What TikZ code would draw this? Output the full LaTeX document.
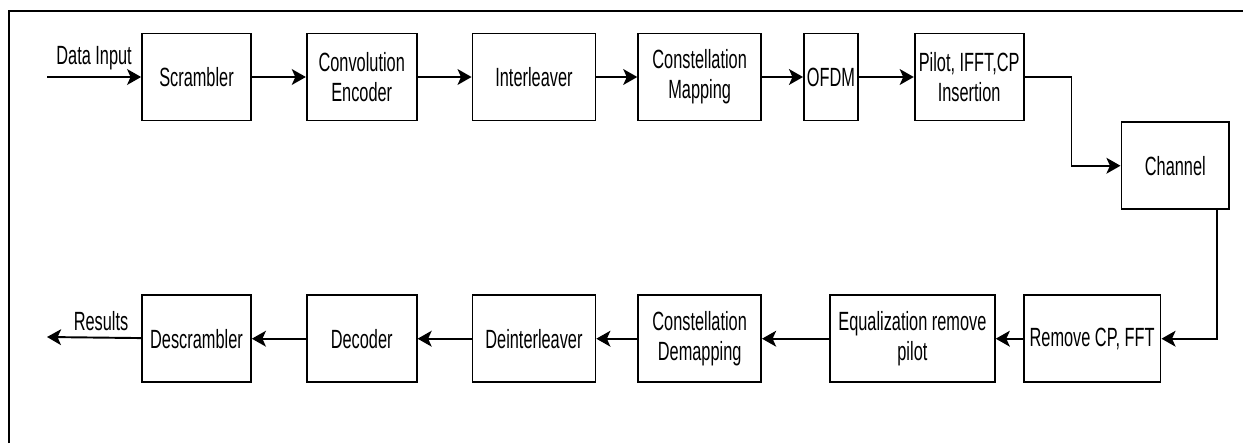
\documentclass[tikz,border=0pt]{standalone}
\usepackage{fontspec}
\usepackage{tikz}
\usetikzlibrary{arrows.meta, positioning}
\newfontfamily\blockfont{Liberation Sans}[FakeStretch=0.62]
\tikzstyle{block} = [rectangle, minimum height=1.74cm, inner sep=1pt, text centered, align=center, draw=black, line width=1pt, font=\blockfont\fontsize{15pt}{17pt}\selectfont]
\tikzstyle{arrow} = [line width=1.1pt, -{Stealth[length=8pt,width=9pt,inset=2pt]}]
\tikzstyle{tag} = [font=\blockfont\fontsize{15pt}{17pt}\selectfont]

\begin{document}
\begin{tikzpicture}[x=0.02cm, y=-0.02cm]
	\useasboundingbox (0,0) rectangle (1243,443);
	\draw[line width=1.1pt] (9,443) -- (9,11) -- (1243,11);
	% transmitter
	\node (scr) [block, minimum width=2.18cm] at (196.5,77) {Scrambler};
	\node (conv) [block, minimum width=2.2cm, right=1.08cm of scr] {Convolution\\Encoder};
	\node (intl) [block, minimum width=2.46cm, right=1.08cm of conv] {Interleaver};
	\node (cmap) [block, minimum width=2.46cm, right=0.82cm of intl] {Constellation\\Mapping};
	\node (ofdm) [block, minimum width=1.08cm, right=0.82cm of cmap] {OFDM};
	\node (pil) [block, minimum width=2.18cm, right=1.1cm of ofdm] {Pilot, IFFT,CP\\Insertion};
	\node (chan) [block, minimum width=2.16cm, below right=0cm and 1.92cm of pil] {Channel};
	% receiver
	\node (desc) [block, minimum width=2.18cm, below=3.46cm of scr] {Descrambler};
	\node (dec) [block, minimum width=2.2cm, right=1.08cm of desc] {Decoder};
	\node (deint) [block, minimum width=2.46cm, right=1.08cm of dec] {Deinterleaver};
	\node (cdem) [block, minimum width=2.46cm, right=0.82cm of deint] {Constellation\\Demapping};
	\node (eq) [block, minimum width=3.3cm, right=1.34cm of cdem] {Equalization remove\\pilot};
	\node (rcp) [block, minimum width=2.74cm, right=0.54cm of eq] {Remove CP, FFT};
	\coordinate (in) at (47,77);
	\coordinate (out) at (47,337);
	\draw [arrow] (in) -- node[tag, anchor=south] {Data Input} (scr);
	\draw [arrow] (scr) -- (conv);
	\draw [arrow] (conv) -- (intl);
	\draw [arrow] (intl) -- (cmap);
	\draw [arrow] (cmap) -- (ofdm);
	\draw [arrow] (ofdm) -- (pil);
	\draw [arrow] (pil.east) -- ++(47,0) |- (chan.west);
	\draw [arrow] ([xshift=-0.26cm]chan.south east) |- (rcp.east);
	\draw [arrow] (rcp) -- (eq);
	\draw [arrow] (eq) -- (cdem);
	\draw [arrow] (cdem) -- (deint);
	\draw [arrow] (deint) -- (dec);
	\draw [arrow] (dec) -- (desc);
	\draw [arrow] (desc) -- node[tag, anchor=south, xshift=0.14cm, yshift=0pt] {Results} (out);
\end{tikzpicture}
\end{document}
